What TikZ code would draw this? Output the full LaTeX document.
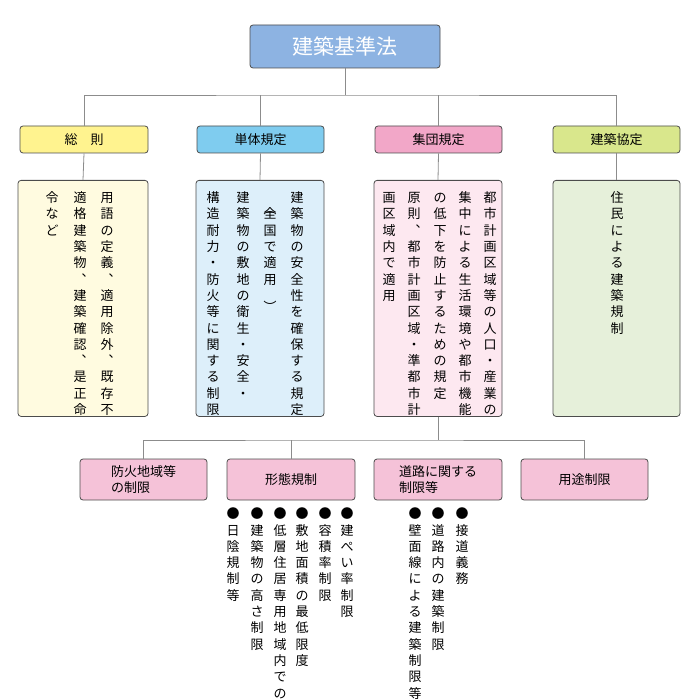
\documentclass[tikz,border=0pt]{standalone}
\usepackage{fontspec}
\setmainfont{Noto Sans CJK JP}
\def\vt#1{\vtop{\offinterlineskip\vtloop#1\relax}}
\def\vtloop#1{\ifx\relax#1\else\hbox to 13pt{\hss\raisebox{0pt}[12.5pt][3.8pt]{#1}\hss}\expandafter\vtloop\fi}
\def\rp#1{\rotatebox{-90}{#1}}
\definecolor{tblue}{HTML}{8DB3E2}
\definecolor{lyel}{HTML}{FFF38F}\definecolor{cyel}{HTML}{FFFBE0}
\definecolor{lblu}{HTML}{7FCCEF}\definecolor{cblu}{HTML}{DDEFFA}
\definecolor{lpnk}{HTML}{F2A7C8}\definecolor{cpnk}{HTML}{FDE8F0}
\definecolor{lgrn}{HTML}{D9E78C}\definecolor{cgrn}{HTML}{E6F0DA}
\definecolor{ppnk}{HTML}{F5C2D8}
\begin{document}
\begin{tikzpicture}[x=1pt,y=-1pt,
 bx/.style={draw=black!70,rounded corners=3pt,line width=0.8pt},
 ln/.style={draw=black!45,line width=0.8pt},
 vtx/.style={anchor=north,inner sep=0pt,font=\fontsize{13}{16}\selectfont},
 lbl/.style={font=\fontsize{13}{16}\selectfont}]
\useasboundingbox (0,0) rectangle (700,700);
% title
\node[bx,fill=tblue,minimum width=190pt,minimum height=43pt,font=\fontsize{21}{24}\selectfont,text=white] (T) at (345,46.5) {建築基準法};
% level 2
\node[bx,fill=lyel,minimum width=128pt,minimum height=27pt,lbl] (A) at (84,139.5) {総　則};
\node[bx,fill=lblu,minimum width=127pt,minimum height=27pt,lbl] (B) at (260.5,139.5) {単体規定};
\node[bx,fill=lpnk,minimum width=127pt,minimum height=27pt,lbl] (C) at (438.5,139.5) {集団規定};
\node[bx,fill=lgrn,minimum width=127pt,minimum height=27pt,lbl] (D) at (616.5,139.5) {建築協定};
\coordinate (h) at (345,95);
\draw[ln] (T.south) -- (h);
\draw[ln] (A.north) |- (h) -| (D.north);
\draw[ln] (B.north) -- (B.north|-h);
\draw[ln] (C.north) -- (C.north|-h);
% content boxes
\node[bx,fill=cyel,minimum width=130pt,minimum height=236pt,anchor=north] (A2) at (83,180) {};
\node[bx,fill=cblu,minimum width=128pt,minimum height=236pt,anchor=north] (B2) at (260,180) {};
\node[bx,fill=cpnk,minimum width=128pt,minimum height=236pt,anchor=north] (C2) at (438,180) {};
\node[bx,fill=cgrn,minimum width=127pt,minimum height=236pt,anchor=north] (D2) at (616.5,180) {};
\foreach \u/\v in {A/A2,B/B2,C/C2,D/D2}{\draw[ln] (\u.south) -- (\v.north);}
% content text
\node[vtx] at (107,190) {\vt{用語の定義︑適用除外︑既存不}};
\node[vtx] at (80,190) {\vt{適格建築物︑建築確認︑是正命}};
\node[vtx] at (52,190) {\vt{令など}};
\node[vtx] at (297,190) {\vt{建築物の安全性を確保する規定}};
\node[vtx] at (270,190) {\vt{{\rp{（}}全国で適用{\rp{）}}}};
\node[vtx] at (243,190) {\vt{建築物の敷地の衛生・安全・}};
\node[vtx] at (213,190) {\vt{構造耐力・防火等に関する制限}};
\node[vtx] at (490,190) {\vt{都市計画区域等の人口・産業の}};
\node[vtx] at (465,190) {\vt{集中による生活環境や都市機能}};
\node[vtx] at (440,190) {\vt{の低下を防止するための規定}};
\node[vtx] at (414,190) {\vt{原則︑都市計画区域・準都市計}};
\node[vtx] at (389,190) {\vt{画区域内で適用}};
\node[vtx] at (617,190) {\vt{住民による建築規制}};
% level 3
\coordinate (h2) at (345,440);
\node[bx,fill=ppnk,minimum width=127pt,minimum height=41pt,align=left,lbl] (E) at (143.5,479.5) {防火地域等\\の制限};
\node[bx,fill=ppnk,minimum width=128pt,minimum height=41pt,lbl] (F) at (291,479.5) {形態規制};
\node[bx,fill=ppnk,minimum width=128pt,minimum height=41pt,align=left,lbl] (G) at (438,479.5) {道路に関する\\制限等};
\node[bx,fill=ppnk,minimum width=127pt,minimum height=41pt,lbl] (H) at (584.5,479.5) {用途制限};
\draw[ln] (C2.south) -- (C2.south|-h2);
\draw[ln] (E.north) |- (h2) -| (H.north);
\draw[ln] (F.north) -- (F.north|-h2);
% bullets
\node[vtx] at (347,506) {\vt{●建ぺい率制限}};
\node[vtx] at (325,506) {\vt{●容積率制限}};
\node[vtx] at (302,506) {\vt{●敷地面積の最低限度}};
\node[vtx] at (280,506) {\vt{●低層住居専用地域内での制限}};
\node[vtx] at (257,506) {\vt{●建築物の高さ制限}};
\node[vtx] at (233,506) {\vt{●日陰規制等}};
\node[vtx] at (462,506) {\vt{●接道義務}};
\node[vtx] at (438,506) {\vt{●道路内の建築制限}};
\node[vtx] at (415,506) {\vt{●壁面線による建築制限等}};
\end{tikzpicture}
\end{document}
